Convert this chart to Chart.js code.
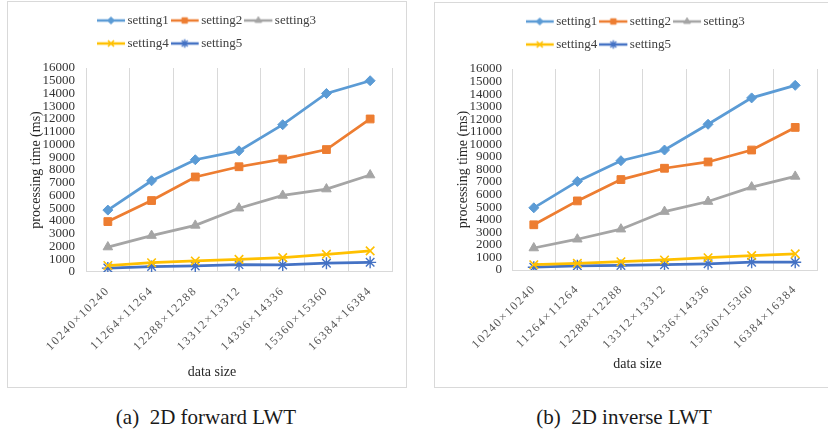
<!DOCTYPE html>
<html><head><meta charset="utf-8">
<script src="https://cdn.jsdelivr.net/npm/chart.js@4.4.1/dist/chart.umd.min.js"></script>
<style>
html,body{margin:0;padding:0;background:#fff;width:828px;height:432px;overflow:hidden;position:relative;}
.panel{position:absolute;border:1px solid #D9D9D9;box-sizing:border-box;background:#fff;}
.panel canvas{position:absolute;left:0;top:0;}
.cap{position:absolute;font-family:"Liberation Serif","Times New Roman",serif;font-size:21px;color:#1a1a1a;white-space:pre;transform:translate(-50%,-50%);line-height:1;}
</style></head><body>
<div class="panel" style="left:7px;top:1px;width:400px;height:387px;"><canvas id="c1" width="398" height="384"></canvas></div>
<div class="panel" style="left:434px;top:2px;width:400px;height:386px;"><canvas id="c2" width="393" height="383"></canvas></div>
<div class="cap" style="left:206px;top:417px;">(a)  2D forward LWT</div>
<div class="cap" style="left:624px;top:417px;">(b)  2D inverse LWT</div>
<script>
// ---- data ----
const categories = ['10240×10240','11264×11264','12288×12288','13312×13312','14336×14336','15360×15360','16384×16384'];
const seriesNames = ['setting1','setting2','setting3','setting4','setting5'];
const yTicksMax = 16000;
const yTickStep = 1000;

// (a) 2D forward LWT
const fwdSetting1 = [4850, 7150, 8800, 9500, 11550, 14000, 15000];
const fwdSetting2 = [3950, 5600, 7450, 8250, 8850, 9600, 12000];
const fwdSetting3 = [1950, 2850, 3650, 5000, 6000, 6500, 7600];
const fwdSetting4 = [500, 720, 860, 980, 1120, 1380, 1650];
const fwdSetting5 = [300, 420, 470, 570, 550, 680, 750];

// (b) 2D inverse LWT
const invSetting1 = [4950, 7050, 8700, 9550, 11600, 13700, 14700];
const invSetting2 = [3600, 5500, 7200, 8100, 8600, 9550, 11350];
const invSetting3 = [1750, 2450, 3250, 4650, 5450, 6600, 7450];
const invSetting4 = [420, 530, 660, 800, 980, 1150, 1280];
const invSetting5 = [220, 330, 360, 420, 490, 620, 620];

const yAxisTitle = 'processing time (ms)';
const xAxisTitle = 'data size';

// ---- styles ----
const FONT = "'Liberation Serif','Times New Roman',serif";
const styles = [
  {color:'#5B9BD5', point:'rectRot', r:5, pbw:1},
  {color:'#ED7D31', point:'rect', r:5.5, pbw:1},
  {color:'#A5A5A5', point:'triangle', r:5.5, pbw:1},
  {color:'#FFC000', point:'crossRot', r:6, pbw:1.6},
  {color:'#4472C4', point:'star', r:6, pbw:1.4}
];

function legendImg(st){
  const c = document.createElement('canvas');
  c.width = 32; c.height = 14;
  const ctx = c.getContext('2d');
  ctx.strokeStyle = st.color; ctx.lineWidth = 2.5;
  ctx.beginPath(); ctx.moveTo(0,7); ctx.lineTo(28,7); ctx.stroke();
  ctx.fillStyle = st.color; ctx.strokeStyle = st.color; ctx.lineWidth = st.pbw;
  Chart.helpers.drawPoint(ctx, {pointStyle: st.point, radius: st.r*0.7, borderWidth: st.pbw, rotation: 0}, 14, 7);
  return c;
}
const legendImgs = styles.map(legendImg);

const legendFix = {
  id: 'legendFix',
  afterInit(chart, args, opts){
    const lg = chart.legend;
    const orig = lg.fit;
    lg.fit = function(){
      this.maxWidth = opts.rowWidth;
      orig.call(this);
      this.height = opts.height;
    };
  },
  afterLayout(chart, args, opts){
    const lg = chart.legend;
    lg.left = opts.left; lg.right = opts.left + opts.rowWidth; lg.width = opts.rowWidth;
  },
  beforeDraw(chart){
    const sc = chart.scales.x;
    if (!sc._lsWrapped){
      const orig = sc.drawLabels;
      sc.drawLabels = function(ca){
        const c = this.ctx; c.save(); c.letterSpacing = '1.6px'; orig.call(this, ca); c.restore();
      };
      sc._lsWrapped = true;
    }
  }
};

function makeChart(id, data, L){
  const datasets = data.map((d,i)=>({
    label: seriesNames[i], data: d,
    borderColor: styles[i].color, backgroundColor: styles[i].color,
    pointStyle: styles[i].point, pointRadius: styles[i].r, pointHoverRadius: styles[i].r,
    pointBorderWidth: styles[i].pbw, pointBorderColor: styles[i].color, pointBackgroundColor: styles[i].color,
    borderWidth: 2.75, tension: 0, fill: false
  }));
  return new Chart(document.getElementById(id), {
    type: 'line',
    data: {labels: categories, datasets},
    plugins: [legendFix],
    options: {
      responsive: false, animation: false, devicePixelRatio: 1,
      layout: {padding: {left: L.padL, right: L.padR, top: 2, bottom: 0}},
      plugins: {
        legendFix: {rowWidth: 262, height: 64, left: L.legendLeft},
        legend: {
          position: 'top', align: 'start', fullSize: true,
          labels: {
            usePointStyle: true, pointStyleWidth: 16, boxHeight: 13, padding: 10,
            color: '#404040', font: {family: FONT, size: 13},
            generateLabels(chart){
              const items = Chart.defaults.plugins.legend.labels.generateLabels(chart);
              items.forEach((it,i)=>{ it.pointStyle = legendImgs[i]; it.fontColor = '#404040'; });
              return items;
            }
          }
        },
        title: {
          display: true, position: 'bottom', align: 'center', fullSize: true, text: xAxisTitle,
          color: '#262626', font: {family: FONT, size: 14, weight: 'normal', lineHeight: 1.2},
          padding: {top: 0, bottom: L.titlePadB}
        },
        tooltip: {enabled: false}
      },
      scales: {
        x: {
          type: 'category', offset: true,
          grid: {display: true, offset: true, color: '#D9D9D9', lineWidth: 1, drawTicks: false},
          border: {display: true, color: '#D9D9D9', width: 1},
          ticks: {autoSkip: false, maxRotation: 45, minRotation: 45, padding: 12, color: '#595959', font: {family: FONT, size: 12}},
          afterFit(s){ s.height = L.xH; }
        },
        y: {
          min: 0, max: yTicksMax,
          grid: {display: false, drawTicks: false},
          border: {display: false},
          ticks: {stepSize: yTickStep, autoSkip: false, padding: L.yPad, color: '#333333', font: {family: FONT, size: 13}, callback: v => String(v)},
          title: {display: true, text: yAxisTitle, color: '#262626', font: {family: FONT, size: 14, lineHeight: 8/14}, padding: {top: L.yTitlePad, bottom: 0}},
          afterFit(s){ s.width = 54; }
        }
      }
    }
  });
}

makeChart('c1', [fwdSetting1, fwdSetting2, fwdSetting3, fwdSetting4, fwdSetting5],
  {padL: 24, padR: 14, titlePadB: 5, xH: 92.3, yPad: 11, yTitlePad: 0, legendLeft: 87});
makeChart('c2', [invSetting1, invSetting2, invSetting3, invSetting4, invSetting5],
  {padL: 23, padR: 11, titlePadB: 13.6, xH: 85.6, yPad: 10, yTitlePad: 1, legendLeft: 88.7});
</script>
</body></html>
